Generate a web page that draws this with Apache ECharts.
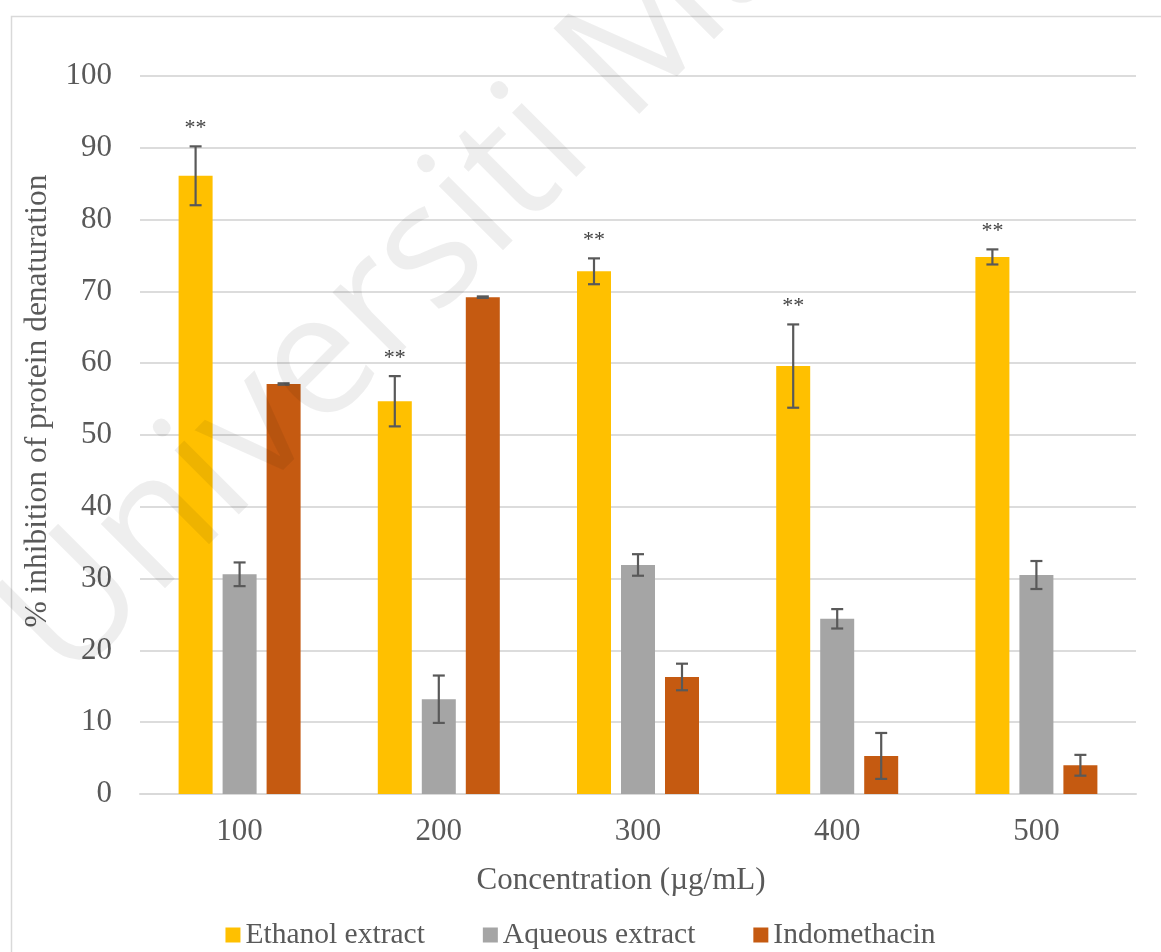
<!DOCTYPE html>
<html>
<head>
<meta charset="utf-8">
<script src="https://cdn.jsdelivr.net/npm/echarts@6/dist/echarts.min.js"></script>
<style>
html,body{margin:0;padding:0;background:#fff;}
#chart{width:1161px;height:952px;}
</style>
</head>
<body>
<div id="chart"></div>
<script>
// ---- data ----
const categories = ['100', '200', '300', '400', '500'];
const ethanol = [86.1, 54.7, 72.8, 59.6, 74.8];
const ethanolErr = [4.1, 3.5, 1.8, 5.8, 1.05];
const aqueous = [30.6, 13.2, 31.9, 24.4, 30.5];
const aqueousErr = [1.65, 3.3, 1.5, 1.35, 1.95];
const indomethacin = [57.1, 69.2, 16.3, 5.3, 4.0];
const indomethacinErr = [0.1, 0.1, 1.85, 3.2, 1.45];
const significance = ['**', '**', '**', '**', '**'];
const yTicks = [0, 10, 20, 30, 40, 50, 60, 70, 80, 90, 100];
const seriesNames = ['Ethanol extract', 'Aqueous extract', 'Indomethacin'];
const xAxisTitle = 'Concentration (µg/mL)';
const yAxisTitle = '% inhibition of protein denaturation';
const watermark = 'Universiti Malaya';

// ---- style ----
const colors = ['#FFC000', '#A5A5A5', '#C55A11'];
const BAR_W = 34, BAR_GAP_PX = 10;
const offsets = [-(BAR_W + BAR_GAP_PX), 0, BAR_W + BAR_GAP_PX];
const serifFont = '"Liberation Serif", "Times New Roman", serif';
const textColor = '#595959';

const chart = echarts.init(document.getElementById('chart'), null, {renderer: 'canvas'});

function errSeries(values, errs, idx, labels) {
  return {
    type: 'custom',
    name: seriesNames[idx] + ' error',
    z: 5,
    silent: true,
    data: values.map((v, i) => [i, v, errs[i]]),
    encode: {x: 0, y: 1},
    renderItem: function (params, api) {
      const i = api.value(0), v = api.value(1), e = api.value(2);
      const hi = api.coord([i, v + e]);
      const lo = api.coord([i, v - e]);
      const x = hi[0] + offsets[idx];
      const cap = 6;
      const st = {stroke: '#595959', lineWidth: 2.2};
      const children = [
        {type: 'line', shape: {x1: x, y1: hi[1], x2: x, y2: lo[1]}, style: st},
        {type: 'line', shape: {x1: x - cap, y1: hi[1], x2: x + cap, y2: hi[1]}, style: st},
        {type: 'line', shape: {x1: x - cap, y1: lo[1], x2: x + cap, y2: lo[1]}, style: st}
      ];
      const lab = labels ? labels[i] : '';
      if (lab) {
        children.push({
          type: 'text',
          style: {
            text: lab, x: x, y: hi[1] - 18,
            align: 'center', verticalAlign: 'middle',
            font: '22px ' + serifFont, fill: '#404040'
          }
        });
      }
      return {type: 'group', children: children};
    }
  };
}

const option = {
  backgroundColor: '#ffffff',
  animation: false,
  grid: {left: 140, right: 25, top: 76, bottom: 158, containLabel: false},
  legend: {
    data: seriesNames,
    left: 'center',
    top: 915,
    icon: 'rect',
    itemWidth: 15,
    itemHeight: 15,
    itemGap: 58,
    textStyle: {fontFamily: serifFont, fontSize: 29.5, color: textColor}
  },
  xAxis: {
    type: 'category',
    data: categories,
    axisTick: {show: false},
    axisLine: {lineStyle: {color: '#d9d9d9', width: 2}},
    axisLabel: {fontFamily: serifFont, fontSize: 31, color: textColor, margin: 22},
    name: xAxisTitle,
    nameLocation: 'middle',
    nameGap: 71,
    nameTextStyle: {fontFamily: serifFont, fontSize: 31, color: textColor, padding: [0, 34, 0, 0]}
  },
  yAxis: {
    type: 'value',
    min: yTicks[0],
    max: yTicks[yTicks.length - 1],
    interval: yTicks[1] - yTicks[0],
    axisLine: {show: false},
    axisTick: {show: false},
    splitLine: {lineStyle: {color: '#dcdcdc', width: 2}},
    axisLabel: {fontFamily: serifFont, fontSize: 31, color: textColor, margin: 28},
    name: yAxisTitle,
    nameLocation: 'middle',
    nameRotate: 90,
    nameGap: 86,
    nameTextStyle: {fontFamily: serifFont, fontSize: 31.5, color: textColor, padding: [0, 0, 0, 68]}
  },
  series: [
    {type: 'bar', name: seriesNames[0], data: ethanol, barWidth: BAR_W, barGap: (BAR_GAP_PX / BAR_W * 100) + '%', itemStyle: {color: colors[0]}},
    {type: 'bar', name: seriesNames[1], data: aqueous, barWidth: BAR_W, barGap: (BAR_GAP_PX / BAR_W * 100) + '%', itemStyle: {color: colors[1]}},
    {type: 'bar', name: seriesNames[2], data: indomethacin, barWidth: BAR_W, barGap: (BAR_GAP_PX / BAR_W * 100) + '%', itemStyle: {color: colors[2]}},
    errSeries(ethanol, ethanolErr, 0, significance),
    errSeries(aqueous, aqueousErr, 1, null),
    errSeries(indomethacin, indomethacinErr, 2, null)
  ],
  graphic: [
    {
      type: 'rect', left: 9, top: 14, silent: true, z: -1,
      shape: {width: 1200, height: 1000},
      style: {fill: 'none', stroke: '#d9d9d9', lineWidth: 1.5}
    },
    {
      type: 'text', silent: true, z: 100,
      x: 93, y: 712, rotation: Math.PI / 4,
      style: {
        text: watermark,
        font: '170px "Open Sans", sans-serif',
        fill: 'rgba(0,0,0,0.065)',
        align: 'left', verticalAlign: 'bottom'
      }
    }
  ]
};
chart.setOption(option);
</script>
</body>
</html>
